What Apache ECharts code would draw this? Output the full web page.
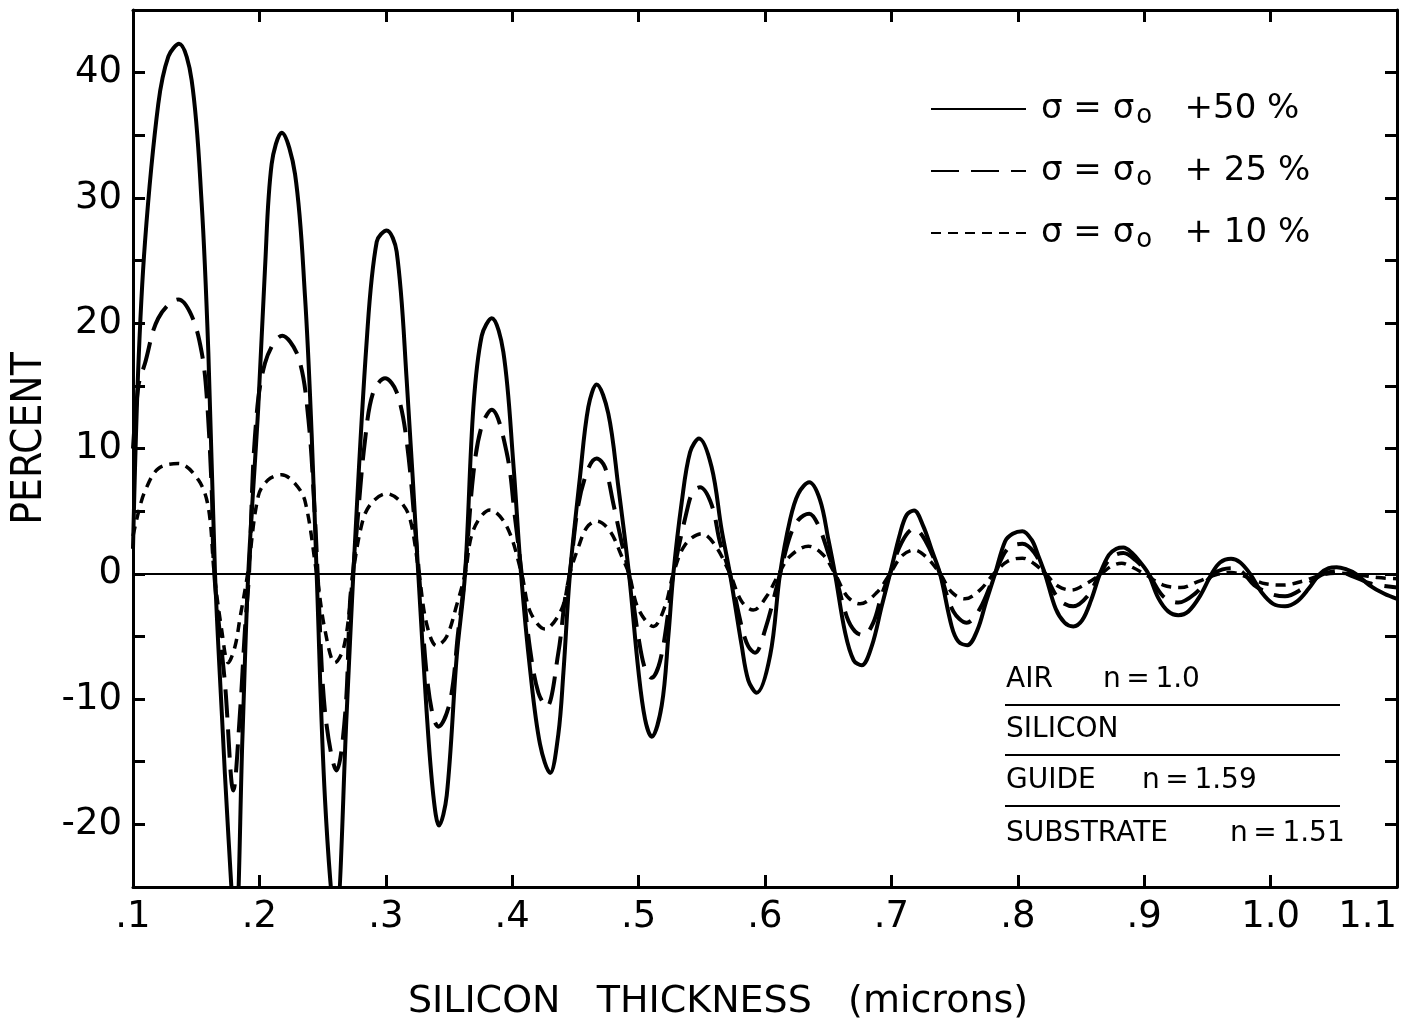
<!DOCTYPE html>
<html>
<head>
<meta charset="utf-8">
<script src="https://cdn.jsdelivr.net/npm/echarts@6/dist/echarts.min.js"></script>
<style>
  html, body { margin: 0; padding: 0; background: #fff; }
  #chart { width: 1411px; height: 1023px; }
</style>
</head>
<body>
<div id="chart"></div>
<script>
// curves, [thickness (microns), percent]
var solid50 = [
  [0.100, 2], [0.104, 16], [0.1095, 26.5], [0.120, 37.5], [0.128, 41.3], [0.1364, 42.3], [0.1464, 39.4], [0.1543, 29.6], [0.1596, 17.7],
  [0.1649, 0], [0.1702, -11], [0.1755, -21], [0.1811, -29], [0.1866, -13], [0.1912, 0], [0.1991, 13.3], [0.2044, 24.3],
  [0.2097, 32.7], [0.2176, 35.2], [0.2282, 31.9], [0.2361, 22.1], [0.2414, 11], [0.2453, 0], [0.2519, -18], [0.2603, -28],
  [0.2691, -11], [0.2743, 0], [0.2849, 18.6], [0.2928, 26.5], [0.3007, 27.4], [0.3086, 25.7], [0.3165, 15.5], [0.3257, 0],
  [0.3323, -11], [0.3376, -17.7], [0.3421, -20.1], [0.3482, -17.7], [0.3561, -6.6], [0.3627, 0], [0.3693, 13.3], [0.3759, 19],
  [0.3838, 20.4], [0.3930, 17.7], [0.4009, 8.8], [0.4070, 0], [0.4141, -7.6], [0.4220, -13.6], [0.4300, -15.9], [0.4365, -12.8],
  [0.4405, -7.9], [0.4457, 0], [0.4536, 7.7], [0.4602, 13.3], [0.4668, 15.1], [0.4760, 12.8], [0.4839, 7.0], [0.4924, 0],
  [0.4998, -7.7], [0.5051, -11.6], [0.5103, -13.0], [0.5183, -10.5], [0.5236, -4.9], [0.5275, 0], [0.5341, 5.7], [0.5407, 9.7],
  [0.5478, 10.8], [0.5578, 8.5], [0.5657, 3.5], [0.5723, 0], [0.5815, -5.7], [0.5868, -8.5], [0.5934, -9.5], [0.6041, -6.5],
  [0.6119, 0], [0.6198, 4.3], [0.6264, 6.4], [0.6350, 7.3], [0.6435, 5.9], [0.6502, 2.7], [0.6554, 0], [0.6634, -4.7],
  [0.6701, -6.9], [0.6765, -7.3], [0.6844, -5.8], [0.6923, -2.6], [0.6989, 0], [0.7068, 3.2], [0.7121, 4.7], [0.7179, 5.05],
  [0.7252, 3.8], [0.7319, 1.9], [0.7385, 0], [0.7477, -4.2], [0.7530, -5.4], [0.7600, -5.7], [0.7680, -4.5], [0.7750, -2.2],
  [0.7820, 0], [0.7900, 2.6], [0.7960, 3.2], [0.8036, 3.4], [0.8110, 2.7], [0.8160, 1.5], [0.8215, 0], [0.8300, -2.8],
  [0.8370, -3.9], [0.8439, -4.2], [0.8510, -3.7], [0.8580, -2.1], [0.8650, 0], [0.8720, 1.5], [0.8780, 2.0], [0.8835, 2.1],
  [0.8900, 1.7], [0.8970, 0.9], [0.9033, 0], [0.9110, -1.9], [0.9190, -3.0], [0.9270, -3.3], [0.9350, -3.0], [0.9440, -1.8],
  [0.9534, 0], [0.9600, 0.9], [0.9687, 1.2], [0.9760, 0.9], [0.9837, 0], [0.9930, -1.5], [1.0020, -2.4], [1.0114, -2.6],
  [1.0210, -2.2], [1.0300, -1.2], [1.0390, 0], [1.0460, 0.45], [1.0523, 0.53], [1.0600, 0.35], [1.0674, 0], [1.0780, -0.9],
  [1.0900, -1.6], [1.1000, -2.0]
];

var dashed25 = [
  [0.100, 10], [0.1043, 15], [0.1095, 16.8], [0.120, 20.4], [0.1359, 21.9], [0.1464, 20.6], [0.1543, 17.7], [0.1583, 14.2],
  [0.1623, 6.6], [0.1643, 0], [0.1728, -8.8], [0.1794, -17.3], [0.1847, -11], [0.1886, -4.4], [0.1918, 0], [0.1965, 11],
  [0.2044, 16.8], [0.2181, 19.0], [0.2308, 17.3], [0.2387, 12.4], [0.2440, 4.4], [0.2461, 0], [0.2519, -11], [0.2611, -15.7],
  [0.2680, -11], [0.2717, -2.2], [0.2740, 0], [0.2770, 3.5], [0.2835, 10.6], [0.2901, 14.5], [0.2994, 15.6], [0.3086, 14.5],
  [0.3165, 10.6], [0.3244, 2.2], [0.3263, 0], [0.3323, -8], [0.3376, -11.5], [0.3415, -12.2], [0.3508, -10.2], [0.3574, -4.5],
  [0.3627, 0], [0.3693, 8], [0.3759, 11.8], [0.3838, 13.1], [0.3956, 9.7], [0.4022, 4.5], [0.4075, 0], [0.4141, -6],
  [0.4207, -9.5], [0.4273, -10.6], [0.4365, -6.3], [0.4418, -2], [0.4455, 0], [0.4523, 5.5], [0.4602, 8.4], [0.4668, 9.2],
  [0.4734, 8.5], [0.4800, 5.6], [0.4866, 2.5], [0.4924, 0], [0.4998, -5], [0.5051, -7.6], [0.5103, -8.3], [0.5169, -7],
  [0.5236, -3], [0.5275, 0], [0.5393, 5.5], [0.5433, 6.6], [0.5486, 6.9], [0.5578, 5.5], [0.5644, 2.5], [0.5723, 0],
  [0.5815, -4.2], [0.5868, -5.8], [0.5921, -6.3], [0.6000, -4.5], [0.6119, 0], [0.6198, 3.0], [0.6264, 4.3], [0.6350, 4.8],
  [0.6421, 3.9], [0.6502, 1.6], [0.6554, 0], [0.6646, -3.4], [0.6712, -4.6], [0.6778, -4.9], [0.6857, -3.9], [0.6923, -1.7],
  [0.6989, 0], [0.7081, 2.5], [0.7179, 3.6], [0.7266, 2.7], [0.7385, 0], [0.7490, -3.0], [0.7596, -3.9], [0.7700, -2.8],
  [0.7820, 0], [0.7920, 2.0], [0.8036, 2.4], [0.8130, 1.7], [0.8215, 0], [0.8330, -2.1], [0.8439, -2.6], [0.8550, -1.8],
  [0.8650, 0], [0.8740, 1.3], [0.8835, 1.65], [0.8930, 1.1], [0.9033, 0], [0.9150, -1.8], [0.9270, -2.3], [0.9400, -1.6],
  [0.9550, 0], [0.9620, 0.35], [0.9695, 0.45], [0.9780, 0.1], [0.9870, -0.9], [1.0000, -1.6], [1.0114, -1.8], [1.0250, -1.2],
  [1.0400, -0.1], [1.0523, 0.2], [1.0650, -0.2], [1.0800, -0.8], [1.1000, -1.1]
];

var dotted10 = [
  [0.100, 3], [0.1043, 4.9], [0.1095, 6.6], [0.120, 8.4], [0.1359, 8.8], [0.1517, 7.5], [0.1596, 5.3], [0.1643, 0],
  [0.1702, -4.5], [0.1754, -7.1], [0.1807, -5.8], [0.1847, -3.5], [0.1907, 0], [0.1991, 6.2], [0.2070, 7.5], [0.2176, 7.9],
  [0.2282, 7.2], [0.2361, 5.8], [0.2453, 0], [0.2519, -4.5], [0.2598, -7.1], [0.2664, -6], [0.2717, -2.5], [0.2740, 0],
  [0.2822, 4.4], [0.2901, 5.8], [0.3007, 6.4], [0.3112, 5.8], [0.3191, 4.4], [0.3263, 0], [0.3323, -4], [0.3402, -5.75],
  [0.3482, -5], [0.3561, -2.5], [0.3627, 0], [0.3693, 3.5], [0.3825, 5.1], [0.3956, 3.8], [0.4075, 0], [0.4141, -3],
  [0.4259, -4.4], [0.4392, -2.8], [0.4455, 0], [0.4523, 2.1], [0.4590, 3.7], [0.4668, 4.2], [0.4774, 3.4], [0.4866, 1.4],
  [0.4924, 0], [0.4998, -2.8], [0.5117, -4.2], [0.5209, -2.6], [0.5275, 0], [0.5367, 2.3], [0.5499, 3.2], [0.5604, 2.3],
  [0.5723, 0], [0.5815, -2.2], [0.5907, -2.9], [0.6013, -1.8], [0.6110, 0], [0.6198, 1.4], [0.6343, 2.2], [0.6461, 1.5],
  [0.6554, 0], [0.6650, -1.8], [0.6752, -2.4], [0.6884, -1.5], [0.6989, 0], [0.7080, 1.4], [0.7179, 1.9], [0.7280, 1.3],
  [0.7385, 0], [0.7480, -1.5], [0.7582, -2.0], [0.7700, -1.3], [0.7810, 0], [0.7920, 1.0], [0.8036, 1.25], [0.8130, 0.8],
  [0.8220, 0], [0.8320, -1.0], [0.8424, -1.3], [0.8540, -0.8], [0.8660, 0], [0.8740, 0.6], [0.8822, 0.85], [0.8910, 0.5],
  [0.9000, 0], [0.9150, -0.9], [0.9290, -1.1], [0.9430, -0.6], [0.9560, -0.1], [0.9690, 0.1], [0.9820, -0.3], [0.9960, -0.8],
  [1.0101, -0.9], [1.0250, -0.6], [1.0400, -0.1], [1.0520, 0.05], [1.0700, -0.1], [1.0850, -0.3], [1.1000, -0.4]
];

var seriesNames = ['+50 %', '+ 25 %', '+ 10 %'];
var xTickLabels = ['.1', '.2', '.3', '.4', '.5', '.6', '.7', '.8', '.9', '1.0', '1.1'];
var yTickLabels = { '-20': '-20', '-10': '-10', '0': '0', '10': '10', '20': '20', '30': '30', '40': '40' };
var layers = [
    ['AIR', 'n = 1.0'],
    ['SILICON', ''],
    ['GUIDE', 'n = 1.59'],
    ['SUBSTRATE', 'n = 1.51']
];

var FONT = 'DejaVu Sans';
var chart = echarts.init(document.getElementById('chart'));

function curve(name, pts, width, dash) {
    return {
        name: name,
        type: 'line',
        data: pts,
        smooth: 0.35,
        symbol: 'none',
        clip: true,
        lineStyle: { color: '#000', width: width, type: dash, cap: 'butt' },
        itemStyle: { color: '#000' }
    };
}

var s1 = curve(seriesNames[0], solid50, 4, 'solid');
s1.markLine = {
    silent: true,
    symbol: 'none',
    label: { show: false },
    lineStyle: { color: '#000', width: 2, type: 'solid' },
    data: [{ yAxis: 0 }]
};

// inset with the layer stack
var inset = [];
var rowY = [683, 733, 784, 837];
var nX = [1103, 0, 1142, 1230];
var insetFont = '28px "' + FONT + '"';
layers.forEach(function (row, i) {
    inset.push({
        type: 'text', left: 1006, top: rowY[i] - 17,
        style: { text: row[0], font: insetFont, fill: '#000' }
    });
    if (row[1]) {
        inset.push({
            type: 'text', left: nX[i], top: rowY[i] - 17,
            style: { text: row[1].replace(/ /g, '\u2009'), font: insetFont, fill: '#000' }
        });
    }
    if (i < 3) {
        inset.push({
            type: 'line',
            shape: { x1: 1005, y1: rowY[i] + 22, x2: 1340, y2: rowY[i] + 22 },
            style: { stroke: '#000', lineWidth: 2 }
        });
    }
});

var option = {
    backgroundColor: '#fff',
    animation: false,
    grid: { left: 133, right: 14, top: 10, bottom: 136, containLabel: false, outerBoundsMode: 'none' },
    legend: {
        orient: 'vertical',
        left: 925,
        top: 84,
        itemWidth: 95,
        itemHeight: 20,
        itemGap: 22,
        data: seriesNames,
        itemStyle: { opacity: 0 },
        formatter: function (name) {
            return '{a|σ = σ}{b|o}{a|   ' + name + '}';
        },
        textStyle: {
            color: '#000',
            padding: [0, 0, 0, 10],
            rich: {
                a: { fontFamily: FONT, fontSize: 34, lineHeight: 38, color: '#000' },
                b: { fontFamily: FONT, fontSize: 26, lineHeight: 38, color: '#000', padding: [14, 0, 0, 2] }
            }
        }
    },
    xAxis: [{
        type: 'value',
        min: 0.1,
        max: 1.1,
        interval: 0.1,
        name: 'SILICON   THICKNESS   (microns)',
        nameLocation: 'middle',
        nameGap: 96,
        nameTextStyle: { fontFamily: FONT, fontSize: 38, color: '#000', padding: [0, 94, 0, 0] },
        axisLine: { onZero: false, lineStyle: { color: '#000', width: 3 } },
        axisTick: { inside: true, length: 12, lineStyle: { color: '#000', width: 3 } },
        axisLabel: {
            margin: 12,
            fontFamily: FONT,
            fontSize: 37,
            color: '#000',
            alignMaxLabel: 'right',
            formatter: function (v) { return xTickLabels[Math.round((v - 0.1) * 10)]; }
        },
        splitLine: { show: false }
    }, {
        type: 'value',
        position: 'top',
        min: 0.1,
        max: 1.1,
        interval: 0.1,
        axisLine: { onZero: false, lineStyle: { color: '#000', width: 3 } },
        axisTick: { inside: true, length: 12, lineStyle: { color: '#000', width: 3 } },
        axisLabel: { show: false },
        splitLine: { show: false }
    }],
    yAxis: [{
        type: 'value',
        min: -25,
        max: 45,
        interval: 5,
        name: 'PERCENT',
        nameLocation: 'middle',
        nameGap: 82,
        nameTextStyle: { fontFamily: 'DejaVu Sans Condensed', fontSize: 42, color: '#000', padding: [0, 0, 0, 20] },
        axisLine: { onZero: false, lineStyle: { color: '#000', width: 3 } },
        axisTick: { inside: true, length: 12, lineStyle: { color: '#000', width: 3 } },
        axisLabel: {
            margin: 11,
            fontFamily: FONT,
            fontSize: 37,
            color: '#000',
            formatter: function (v) { return yTickLabels[String(v)] || ''; }
        },
        splitLine: { show: false }
    }, {
        type: 'value',
        position: 'right',
        min: -25,
        max: 45,
        interval: 5,
        axisLine: { show: true, onZero: false, lineStyle: { color: '#000', width: 3 } },
        axisTick: { inside: true, length: 12, lineStyle: { color: '#000', width: 3 } },
        axisLabel: { show: false },
        splitLine: { show: false }
    }],
    graphic: inset,
    series: [
        s1,
        curve(seriesNames[1], dashed25, 4, [28, 12]),
        curve(seriesNames[2], dotted10, 3.5, [10, 7])
    ]
};

chart.setOption(option);
</script>
</body>
</html>
